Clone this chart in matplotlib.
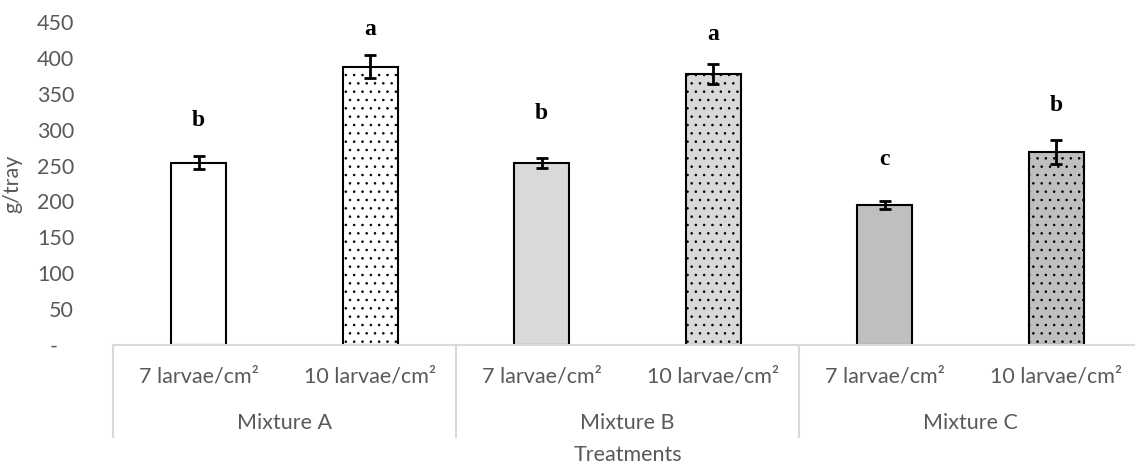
import numpy as np
import matplotlib
matplotlib.use("Agg")
import matplotlib.pyplot as plt

# data
mixtures = ["Mixture A", "Mixture B", "Mixture C"]
densities = ["7 larvae/cm\u00b2", "10 larvae/cm\u00b2"]
values = [254, 388, 253, 377, 195, 269]
errors = [9, 16, 7, 14, 6, 17]
letters = ["b", "a", "b", "a", "c", "b"]
letter_y = [313, 440, 323, 432, 259, 333]
fills = ["#ffffff", "#ffffff", "#d9d9d9", "#d9d9d9", "#bfbfbf", "#bfbfbf"]
hatches = [None, "..", None, "..", None, ".."]
yticks = [0, 50, 100, 150, 200, 250, 300, 350, 400, 450]

grey = "#595959"
fs = 15.5
plt.rcParams["font.family"] = ["Lato", "DejaVu Sans"]
plt.rcParams["hatch.linewidth"] = 0.6

fig = plt.figure(figsize=(11.35, 4.70), dpi=100)
ax = fig.add_axes([113 / 1135, 125 / 470, 1029 / 1135, 323 / 470])

x = np.arange(len(values))
for i in range(len(values)):
    ax.bar(x[i], values[i], width=0.32, color=fills[i], edgecolor="black",
           linewidth=1.5, hatch=hatches[i], zorder=2)
ax.errorbar(x, values, yerr=errors, fmt="none", ecolor="black", elinewidth=2,
            capsize=4.5, capthick=2, zorder=3)
for i in range(len(values)):
    ax.text(x[i], letter_y[i], letters[i], ha="center", va="center",
            fontsize=17, fontweight="bold", family="Liberation Serif")

ax.set_xlim(-0.5, len(values) - 0.5)
ax.set_ylim(0, 450)
ax.set_yticks(yticks)
ax.set_yticklabels(["-   "] + [str(v) for v in yticks[1:]])
ax.tick_params(axis="y", length=0, pad=28, labelsize=fs, labelcolor=grey)
ax.tick_params(axis="x", length=0, labelbottom=False)
for s in ["left", "right", "top"]:
    ax.spines[s].set_visible(False)
ax.spines["bottom"].set_color("#d9d9d9")
ax.spines["bottom"].set_linewidth(1.5)

# two-level category axis
sep_col = "#d9d9d9"
for i in range(len(values)):
    ax.annotate(densities[i % 2], xy=(x[i], 0), xycoords=("data", "axes fraction"),
                xytext=(0, -23), textcoords="offset points", ha="center", va="center",
                fontsize=fs, color=grey)
for j, m in enumerate(mixtures):
    ax.annotate(m, xy=(2 * j + 0.5, 0), xycoords=("data", "axes fraction"),
                xytext=(0, -56), textcoords="offset points", ha="center", va="center",
                fontsize=fs, color=grey)
for k in range(len(mixtures)):
    xs = 2 * k - 0.5
    ax.plot([xs, xs], [0, -92 / 323], transform=ax.get_xaxis_transform(),
            color=sep_col, linewidth=1.5, clip_on=False)

ax.annotate("Treatments", xy=(0.5, 0), xycoords="axes fraction", xytext=(0, -79),
            textcoords="offset points", ha="center", va="center", fontsize=fs, color=grey)
ax.set_ylabel("g/tray", fontsize=fs, color=grey, labelpad=10)

plt.savefig("out.png", dpi=100)
